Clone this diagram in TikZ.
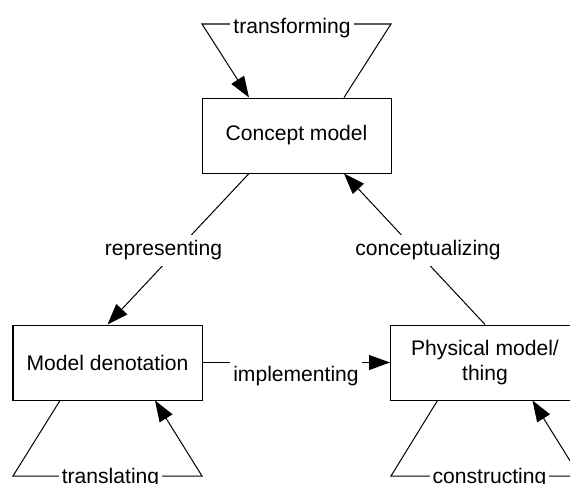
\documentclass[tikz,border=0pt]{standalone}
\usepackage{fontspec}
\setmainfont{Liberation Sans}
\usetikzlibrary{arrows.meta}
\tikzset{
  modelbox/.style={
    draw,
    shape = rectangle,
    minimum width=3.78cm,
    minimum height=1.5cm,
    inner sep = 0.1cm,
    align=center
  },
  edgelabel/.style={
    fill=white,
    inner xsep = 0.06cm,
    inner ysep = 0.11cm,
    text height=0.31cm,
    text depth=0.09cm
  },
  flow/.style={
    -{Triangle[length=0.42cm,width=0.3cm]}
  },
  every picture/.style = {
    line width=0.57pt,
    font=\fontsize{12}{14.4}\selectfont
  }
}

\begin{document}
\begin{tikzpicture}
            \useasboundingbox (0,0) rectangle (11.4,9.66);
            \node[modelbox] (cm) at (5.93,6.95) {Concept model};
            \node[modelbox] (md) at (2.15,2.41) {Model denotation};
            \node[modelbox] (pm) at (9.70,2.41) {Physical model/\\thing};
            % corners of the self loops
            \coordinate (tfl) at (4.04,9.18);
            \coordinate (tfr) at (7.82,9.18);
            \coordinate (mdl) at (0.26,0.14);
            \coordinate (mdr) at (4.04,0.14);
            \coordinate (pml) at (7.82,0.14);
            \coordinate (pmr) at (11.59,0.14);
            \draw[flow] ([xshift=0.95cm]cm.north) -- (tfr) -- (tfl) -- ([xshift=-0.95cm]cm.north);
            \foreach \b in {md,pm}{
                    \draw[flow] ([xshift=-0.95cm]\b.south) -- (\b l) -- (\b r) -- ([xshift=0.95cm]\b.south);
                }
            \draw[flow] ([xshift=-0.95cm]cm.south) -- (md.north);
            \draw[flow] (pm.north) -- ([xshift=0.95cm]cm.south);
            \draw[flow] (md.east) -- (pm.west);
            % labels go over the lines
            \node[edgelabel] (tf) at (5.84,9.11) {transforming};
            \node[edgelabel] (rp) at (3.27,4.66) {representing};
            \node[edgelabel] (cz) at (8.56,4.66) {conceptualizing};
            \node[edgelabel] (im) at (5.92,2.14) {implementing};
            \node[edgelabel] (tr) at (2.21,0.10) {translating};
            \node[edgelabel] (cs) at (9.79,0.10) {constructing};
        \end{tikzpicture}
\end{document}
